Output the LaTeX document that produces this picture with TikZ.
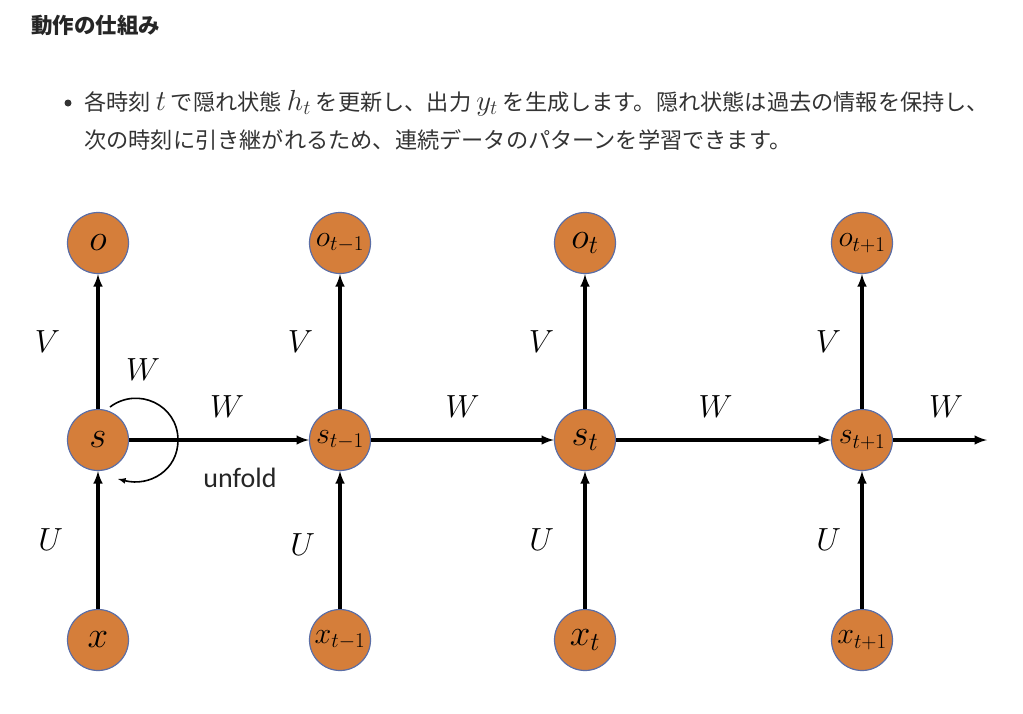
\documentclass[tikz,border=0pt]{standalone}
\usepackage{fix-cm}
\usepackage{amsmath}
\usepackage{fontspec}
\usepackage{tikz}
\usetikzlibrary{arrows}
\newfontfamily\cjk{Noto Sans CJK JP}
\newfontfamily\unfoldfont{Carlito}
\definecolor{unitfill}{HTML}{D57E3A}
\definecolor{unitdraw}{HTML}{5B6EA6}
\definecolor{pagetext}{HTML}{333333}
\newcommand{\inmath}[1]{{\fontsize{29}{29}\selectfont$#1$}}
\tikzset{
	unit/.style={circle, fill=unitfill, draw=unitdraw, line width=1.2pt, minimum size=61pt, inner sep=0pt},
	bigsym/.style={font=\fontsize{37}{37}\selectfont},
	subsym/.style={font=\fontsize{30}{30}\selectfont},
	weight/.style={font=\fontsize{32}{32}\selectfont},
	flow/.style={line width=3.2pt, -latex},
	pagefont/.style={text=pagetext, anchor=west, inner sep=0pt, font=\cjk\fontsize{22.2}{22.2}\selectfont},
}

\begin{document}
\begin{tikzpicture}[x=1pt, y=-1pt]
		\useasboundingbox[fill=white] (0, 0) rectangle (1023, 713);

		\node[pagefont, font=\cjk\bfseries\fontsize{21.5}{21.5}\selectfont, text=black!85] (title) at (31, 25) {動作の仕組み};
		\node[circle, fill=pagetext, inner sep=0pt, minimum size=7pt] (dot) at (68, 103) {};
		\node[pagefont] (line1) at (84, 103) {各時刻 \inmath{t} で隠れ状態 \inmath{h_t} を更新し、出力 \inmath{y_t} を生成します。隠れ状態は過去の情報を保持し、};
		\node[pagefont] (line2) at (84, 140) {次の時刻に引き継がれるため、連続データのパターンを学習できます。};

		\node[unit, bigsym] (o) at (98, 243) {$o$};
		\node[unit, subsym] (o1) at (340, 243) {$o_{t-1}$};
		\node[unit, bigsym] (o2) at (585, 243) {$o_t$};
		\node[unit, subsym] (o3) at (862, 243) {$o_{t+1}$};

		\node[unit, bigsym] (s) at (98, 440) {$s$};
		\node[unit, subsym] (s1) at (340, 440) {$s_{t-1}$};
		\node[unit, bigsym] (s2) at (585, 440) {$s_t$};
		\node[unit, subsym] (s3) at (862, 440) {$s_{t+1}$};

		\node[unit, bigsym] (x) at (98, 640) {$x$};
		\node[unit, subsym] (x1) at (340, 640) {$x_{t-1}$};
		\node[unit, bigsym] (x2) at (585, 640) {$x_t$};
		\node[unit, subsym] (x3) at (862, 640) {$x_{t+1}$};

		\draw[flow] (x) -- (s) node[weight, midway, left=30pt] {$U$};
		\draw[flow] (x1) -- (s1) node[weight, midway, left=20pt, yshift=-5pt] {$U$};
		\draw[flow] (x2) -- (s2) node[weight, midway, left=26pt] {$U$};
		\draw[flow] (x3) -- (s3) node[weight, midway, left=16pt] {$U$};

		\draw[flow] (s) -- (o) node[weight, midway, left=33pt] {$V$};
		\draw[flow] (s1) -- (o1) node[weight, midway, left=22pt] {$V$};
		\draw[flow] (s2) -- (o2) node[weight, midway, left=26pt] {$V$};
		\draw[flow] (s3) -- (o3) node[weight, midway, left=16pt] {$V$};

		\coordinate (out) at (987, 440);
		\draw[flow] (s) -- (s1) node[weight, midway, above=18pt, xshift=8pt] {$W$};
		\draw[flow] (s1) -- (s2) node[weight, midway, above=18pt] {$W$};
		\draw[flow] (s2) -- (s3) node[weight, midway, above=18pt, xshift=-8pt] {$W$};
		\draw[flow] (s3) -- (out) node[weight, midway, above=18pt, xshift=6pt] {$W$};

		\coordinate (loopin) at (110, 407);
		\coordinate (loopout) at (118, 479);
		\draw[line width=1.6pt, -latex] (loopin) .. controls (138, 386) and (178, 405) .. (178, 440) .. controls (178, 470) and (150, 487) .. (loopout);
		\node[weight] (wloop) at (143, 370) {$W$};
		\node[font=\unfoldfont\fontsize{28}{28}\selectfont, text=black!85] (unfold) at (240, 478) {unfold};
	\end{tikzpicture}
\end{document}
